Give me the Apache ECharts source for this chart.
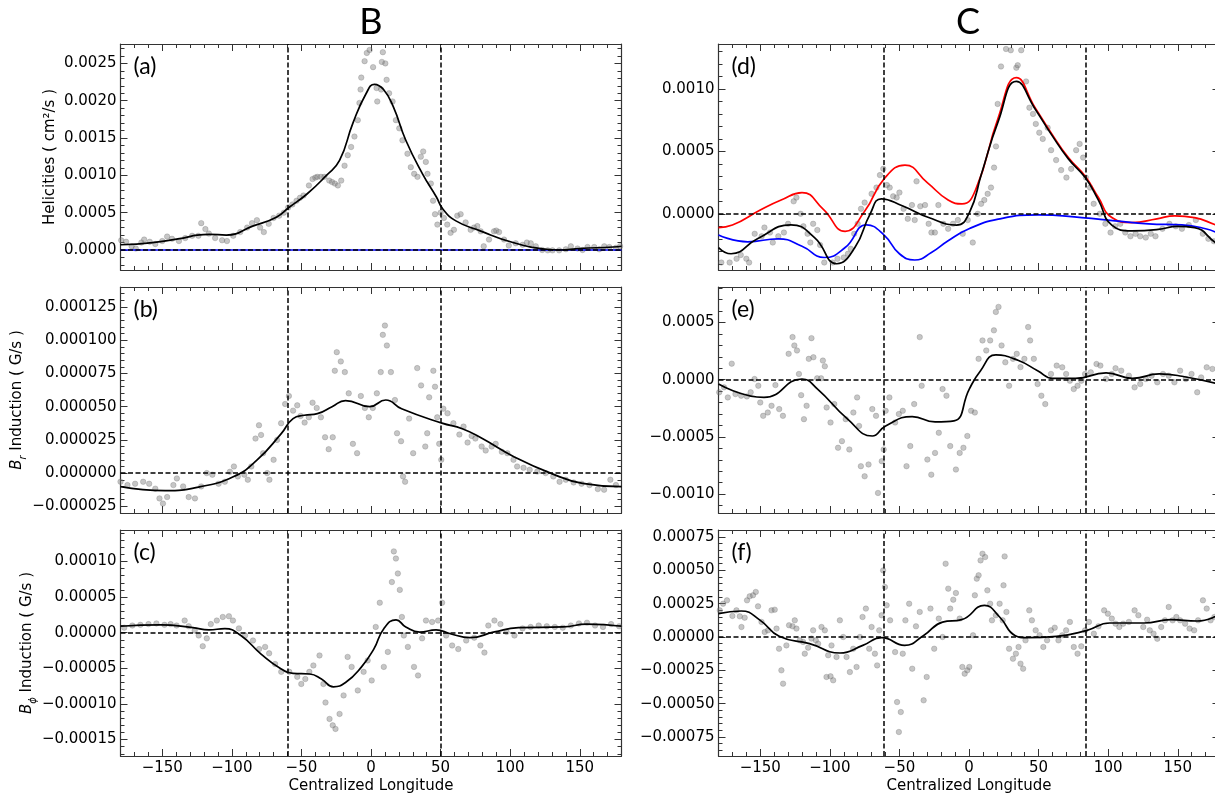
<!DOCTYPE html>
<html>
<head>
<meta charset="utf-8">
<script src="https://cdn.jsdelivr.net/npm/echarts@6/dist/echarts.min.js"></script>
<style>
  html, body { margin: 0; padding: 0; background: #fff; }
  #main { width: 1215px; height: 793px; }
</style>
</head>
<body>
<div id="main"></div>
<script>
// ---- data (x = centralized longitude) ----
// units: a 1e-4, b 1e-6, c 1e-5, d/e/f 1e-4
const ptsA = [[-179.5,1.3],[-176,1.1],[-172,0.5],[-169,0.2],[-165,1.0],[-163,1.4],[-159,1.1],[-155,0.8],[-150,1.2],[-146.5,1.8],[-143,1.5],[-138,1.2],[-133.5,1.6],[-128.5,1.9],[-124,1.9],[-122,3.6],[-119,2.8],[-116.5,2.2],[-112,1.6],[-107,1.3],[-103.5,1.2],[-99,1.9],[-94,2.4],[-89,3.0],[-85.5,3.6],[-82,4.0],[-79.7,3.0],[-77,2.4],[-73.5,3.5],[-70,4.3],[-66,4.6],[-62.6,5.0],[-59.5,5.7],[-56.5,6.1],[-53.5,6.6],[-51,7.0],[-48.5,7.3],[-44.6,8.65],[-42,9.5],[-40,9.7],[-38.5,9.8],[-36,9.8],[-33.5,9.8],[-30,9.3],[-28,9.1],[-26,8.9],[-23.8,8.65],[-21.4,9.3],[-19,11.3],[-16.7,12.7],[-14.3,13.8],[-11.9,15.2],[-9.5,17.4],[-8.3,19.7],[-7.5,21.5],[-7,23.1],[-4.6,25.3],[-3,26.4],[-1,26.8],[1.5,24.5],[4,21.7],[4.5,19.9],[7.3,21.5],[7.8,25.2],[8.5,26.5],[10.3,25.0],[11.2,22.8],[13,21.0],[15.5,19.9],[17.9,17.4],[20.3,16.3],[22.6,14.7],[26.2,12.9],[28.6,11.1],[31,10.2],[33.4,9.8],[35.8,12.5],[37.5,13.2],[39.4,11.8],[40.6,10.2],[43,8.9],[44.6,6.6],[46,4.8],[47.7,3.4],[50,5.0],[52.4,4.3],[54.8,3.4],[57.2,2.3],[59.6,2.7],[62,4.6],[64.4,4.8],[68,3.7],[71.6,2.7],[74,3.0],[76.4,3.2],[78.8,2.5],[81,0.5],[84.8,1.4],[88.4,2.5],[90,2.6],[92,2.4],[95.6,1.4],[99,0.6],[104,0.9],[109,0.7],[112,1.0],[114.8,0.9],[118.4,0.5],[123,0],[127,-0.05],[130.4,-0.05],[135.2,-0.05],[140,0.1],[143.6,0.5],[148.4,0.2],[152,0],[155.6,0.4],[160.4,0.4],[164,0.1],[167.6,0.5],[171.2,0.4],[176,0.3],[179,0.5]];
const fitA = [[-180,0.7],[-157,1.0],[-135,1.6],[-125,2.0],[-116,2.1],[-104,2.0],[-85,3.2],[-68,4.4],[-59,5.7],[-46,7.5],[-32,10.0],[-22.6,12.0],[-13,17.0],[-3.4,21.0],[2.5,22.2],[9,21.5],[16,19.2],[25,14.7],[37,10.2],[47,7.1],[51.6,5.5],[61,3.9],[78,2.6],[102,1.0],[126,0.1],[135,0],[150,0.2],[174,0.4],[180,0.5]];
const zeroA = [[-180,0],[180,0]];

const ptsB = [[-180,-6.5],[-175,-9],[-169.5,-8],[-163.7,-6.5],[-159.4,-8],[-155,-11.7],[-152,-19],[-149.5,-22.9],[-146.5,-18],[-142,-9],[-139.5,-4],[-135,-10],[-131,-18],[-126.5,-19],[-122,-10],[-118,0],[-114,-1.2],[-109.5,-8],[-105,-6.5],[-101.4,1],[-98.5,5],[-95.7,-2.5],[-91,-1.2],[-88.5,-5],[-86,5],[-83,26],[-80.5,36],[-79,28.7],[-77.5,15],[-74.6,0],[-73,-5],[-70,10],[-67.5,25],[-64.6,37.5],[-61.7,52],[-59,58],[-56,47],[-53,51],[-50.6,43],[-47.7,38],[-44.7,42],[-42,53],[-39,49],[-36,42],[-33,27],[-30.4,18],[-27.5,27],[-26,77],[-24.6,91],[-21.7,84],[-18.8,76],[-16,60],[-13,22],[-10,15],[-7.3,58],[-4.4,49],[-1.6,42],[1.3,49],[4.2,60],[7,76],[8.5,104],[10,111],[11.4,96],[14.3,76],[17.2,55],[18.7,30],[21.6,24],[23,-2.5],[24.5,-6.5],[27.4,41],[30.3,15],[33.2,79],[36,66],[39,20],[40.4,30],[41.8,57],[44.8,77],[46,65],[47.6,42],[49,22],[50.5,10],[52,48.5],[55,45],[59.2,37.5],[63.5,29],[66.5,35],[69.4,23],[72.3,28],[75,26],[79.5,20],[82.4,17],[86.7,20],[89.6,22],[94,16],[98,15],[102.4,10],[105,5],[109.6,4],[114,2.5],[119.5,1.2],[125.5,0],[131,-2.5],[135.5,-6.5],[140,-5],[145.6,-7],[151.3,-8],[157,-9],[163,-12],[167.5,-12.5],[172,-5],[176,-9]];
const fitB = [[-180,-10.2],[-148,-13.2],[-122.5,-10.2],[-99,-2.8],[-82,9.7],[-64.5,29.7],[-56,41],[-48,43.5],[-38.5,44.7],[-28,50],[-18.3,54.6],[-1,50],[10.6,55],[22,48.4],[51,37.6],[65.6,33.4],[80,26],[103,12.2],[129,0],[152,-7.7],[180,-10.2]];

const ptsC = [[-177.3,0.7],[-171.5,1.0],[-165.7,1.1],[-159.9,1.2],[-154.2,1.3],[-148.4,1.1],[-144,1.2],[-139.7,1.0],[-133.9,1.7],[-131,0.9],[-126.7,0.3],[-123.8,-0.4],[-120.9,-1.9],[-118,-0.8],[-115.1,1.2],[-110.8,1.7],[-106.5,2.2],[-102.1,2.3],[-99.2,1.7],[-94.9,0.6],[-90.5,-0.4],[-84.8,-1.1],[-80.4,-2.3],[-76.1,-2.0],[-73.2,-2.9],[-68.9,-4.4],[-64.5,-5.5],[-58.7,-5.5],[-53,-6.2],[-50.1,-7.2],[-47.2,-6.5],[-44.3,-5.5],[-41.4,-4.6],[-37,-3.2],[-34.2,-7.2],[-32.7,-9.8],[-29.8,-12.1],[-27.5,-13.0],[-25.5,-13.5],[-22.6,-11.4],[-19.7,-8.8],[-16.8,-3.4],[-13.9,-4.8],[-9.5,-8.1],[-5.3,-5.5],[-2.4,-3.9],[0.5,-6.7],[3.4,0.8],[6.3,4.2],[9.2,-4.8],[12.1,-2.7],[15,7.1],[16.4,11.4],[17.9,10.4],[19.3,8.3],[20.7,6.0],[22.2,2.2],[23.6,-0.4],[26.5,-2.0],[30.9,-4.8],[33.8,-6.0],[36.7,-0.8],[39.5,1.7],[43.9,1.5],[48.2,1.7],[51.1,4.2],[54,-0.4],[58.3,-1.8],[62.7,-2.3],[68.4,-1.1],[74.2,-0.7],[78.6,-1.8],[81.5,-2.8],[84.3,1.0],[88.7,1.7],[93,1.2],[97.4,0.1],[103.1,-0.4],[108.9,0.6],[114.7,0.8],[120.5,1.0],[126.3,0.9],[132.1,0.8],[137.8,0.7],[143.6,1.0],[149.4,1.3],[155.2,1.4],[161,1.0],[166.7,0.8],[172.5,1.2],[178.3,0.9]];
const fitC = [[-180,0.9],[-151,1.1],[-128,0.7],[-116.5,0.4],[-105,0.56],[-93.5,-0.4],[-79,-3.0],[-64.5,-5.1],[-56,-5.7],[-44,-5.8],[-35.6,-6.5],[-27,-7.6],[-18.3,-7.0],[-6.8,-4.8],[2,-2.3],[9.2,0.56],[18,1.8],[25,0.8],[35,0.08],[46.8,0.4],[57,-0.15],[71,-0.7],[88.7,0.1],[106,0.7],[138,0.8],[155,1.2],[180,0.9]];

const ptsD = [[-178,-3.9],[-175,-4.6],[-172,-3.9],[-167,-3.6],[-164,-3.3],[-160,-3.6],[-158,-3.9],[-154,-1.6],[-149,-1.8],[-147,-1.1],[-143,-1.5],[-141,-2.3],[-137,-1.8],[-133,-1.5],[-130,-0.8],[-126,1.0],[-124,1.3],[-121,0],[-119,-1.0],[-116,-1.6],[-114,-2.3],[-112,-0.8],[-109,-1.3],[-107,-2.5],[-104,-3.9],[-100,-4.6],[-98,-3.9],[-94.5,-3.6],[-90,-3.5],[-87,-3.2],[-85,-2.8],[-82.5,-1.6],[-80,-0.8],[-77.6,0.4],[-75,0.9],[-70,1.6],[-66.5,2.1],[-64,3.1],[-61.6,3.6],[-59,2.3],[-57,2.1],[-54.5,1.4],[-52,1.3],[-50,1.7],[-47,0.4],[-44,-0.4],[-41,0.7],[-39,-0.5],[-37.7,2.6],[-35,0.6],[-31.6,0.7],[-29,-0.8],[-27,-1.5],[-24.5,-1.5],[-22,0.7],[-18.4,-0.8],[-15,-1.2],[-11.5,-0.8],[-8,-0.5],[-4.5,-1.6],[-0.9,-0.5],[2.7,-2.3],[6.3,0],[8.7,0.8],[11,1.1],[13.4,1.6],[15.8,2.1],[18,3.7],[19.4,5.4],[20.6,8.8],[23,11.8],[26.6,13.2],[30,13.1],[34,11.7],[35,11.9],[37.5,13.1],[41,10.6],[43.4,8.5],[46,8.0],[48,7.2],[50.5,6.5],[53,6.0],[56.5,6.9],[59,5.1],[62.6,4.3],[66.2,3.5],[70,2.9],[73.4,3.6],[77,5.1],[79.5,5.6],[82,4.5],[84,2.9],[87,2.1],[89.6,0.8],[94,0],[98,-0.8],[101.7,-1.5],[105,-1.0],[108.7,-0.8],[112.3,-1.5],[116,-1.8],[119.7,-1.6],[123,-1.8],[127,-1.9],[130.6,-1.6],[134,-1.8],[139,-1.2],[144,-0.8],[148.6,-1.0],[153,-1.2],[158,-0.9],[163,-0.5],[168,-1.6],[172,-2.0],[176,-2.2]];
const fitD = [[-180,-2.7],[-171,-3.2],[-152,-2.0],[-128,-0.88],[-111,-1.9],[-95,-4.0],[-82,-2.7],[-71,0],[-63,1.2],[-48,0.64],[-29,-0.3],[-9,-0.9],[0.3,0.1],[9,3.2],[21,7.4],[34,10.6],[47.5,8.4],[59.5,6.3],[71.4,4.4],[83.5,2.9],[93,1.1],[102.6,-0.9],[117,-1.36],[136,-1.25],[150,-1.0],[162,-1.1],[177,-2.3],[180,-2.5]];
const redD = [[-180,-1.1],[-170,-0.9],[-150,0.3],[-135,1.1],[-120,1.7],[-105,0.4],[-89,-1.4],[-75,0.2],[-61,2.8],[-46,3.9],[-30,2.5],[-15,1.1],[-5,0.8],[5,2.0],[21,7.7],[34,10.9],[47.5,8.5],[59.5,6.4],[71.4,4.5],[83.5,3.0],[93,1.3],[102.6,-0.3],[117,-0.7],[135,-0.4],[148,-0.16],[162,-0.3],[177,-0.88],[180,-1.0]];
const blueD = [[-180,-1.7],[-159,-2.24],[-137,-2.0],[-120,-2.6],[-104,-3.5],[-89,-2.7],[-73.6,-0.88],[-61,-1.7],[-50,-3.2],[-39,-3.7],[-27,-3.1],[-15,-2.16],[0,-1.2],[21,-0.43],[50,-0.08],[81,-0.3],[105,-0.56],[129,-0.8],[153,-0.88],[170,-1.2],[180,-1.6]];

const ptsE = [[-179.5,-1.1],[-176,-0.67],[-173.3,-1.55],[-170.5,1.4],[-167.8,-1.26],[-163.7,-1.4],[-159.6,-1.46],[-156.9,-1.1],[-154.1,0.06],[-151.4,-0.53],[-150,-1.99],[-147.9,-3.16],[-144.6,-2.87],[-141.9,-2.28],[-139.1,-0.47],[-136.4,-2.57],[-133.7,-3.16],[-129.6,2.26],[-126.8,3.72],[-125.5,2.99],[-123.6,2.55],[-122.2,0.5],[-120.6,-1.35],[-118.6,-3.45],[-116.7,-2.28],[-115.1,1.82],[-113.2,3.63],[-111.8,1.96],[-109.1,0.12],[-106.3,0.12],[-105,1.67],[-103.6,1.17],[-102.3,-2.43],[-99.5,-3.74],[-96.8,-2.13],[-94.1,-5.95],[-91.3,-5.37],[-88.6,-3.45],[-86,-6.1],[-83.1,-2.87],[-80.4,-1.55],[-79,-4.04],[-77.7,-7.56],[-75,-8.44],[-72.2,-7.41],[-69.5,-2.57],[-66.8,-3.16],[-65.4,-9.9],[-62.7,-7.12],[-61.3,-6.1],[-59.9,-2.72],[-57.2,-1.55],[-53.1,-3.74],[-50.4,-3.0],[-47.6,-2.72],[-44.9,-7.56],[-42.2,-5.8],[-39.4,-2.13],[-35.4,3.72],[-34,-0.53],[-29.9,-6.98],[-27.1,-8.3],[-24.4,-6.4],[-21.7,-4.64],[-19,-0.82],[-16.2,-1.4],[-13.5,-5.8],[-9.4,-7.85],[-6.7,-6.4],[-4,-5.95],[-1.2,-4.92],[1.5,-2.72],[4.2,-2.87],[6.9,1.82],[9.7,3.43],[12.4,2.55],[15.2,3.43],[17.9,4.31],[19.3,5.92],[21.2,6.36],[23.4,2.99],[26.1,1.52],[28.8,-0.53],[31.6,1.82],[34.3,2.26],[37,1.1],[39.8,1.82],[42.5,4.6],[43.9,3.43],[46.6,1.82],[49.3,-0.38],[52,-1.4],[54.8,-2.13],[58.9,0.5],[63,1.23],[67,1.08],[69.8,0.5],[72.5,-0.09],[75.3,-0.82],[78,-0.53],[80.7,-0.09],[83.4,0.5],[87.5,0.64],[91.6,1.37],[94.4,1.23],[98.5,0.06],[102.6,0.5],[105.3,1.0],[109.4,0.79],[114.9,0.35],[119,-0.67],[123,-0.38],[127.1,0.06],[131.2,0.35],[135.3,-0.23],[139.4,0.5],[143.5,0.35],[147.6,-0.23],[151.7,0.79],[155.8,0.06],[159.9,0.5],[164,-1.1],[166.8,0.2],[170.8,1.08],[174.9,0.94]];
const fitE = [[-180,-0.38],[-147.3,-1.55],[-120,0.06],[-109,-0.8],[-87.2,-3.45],[-69.5,-4.92],[-59.9,-4.04],[-40.8,-3.22],[-24.4,-3.69],[-10.8,-3.6],[0.2,-0.82],[8.3,0.79],[19.3,2.17],[35.6,1.67],[49.3,0.79],[60.2,0.12],[76.6,0.12],[98.5,0.59],[117.6,0.12],[136.7,0.5],[153,0.3],[180,-0.4]];

const ptsF = [[-179.1,2.0],[-176.7,2.5],[-173.9,2.75],[-170,1.58],[-167.1,2.0],[-164.7,1.55],[-163.5,0.75],[-161.2,1.45],[-159.5,2.75],[-157.6,3.05],[-155.2,3.13],[-153.2,3.38],[-151.6,2.3],[-149.1,1.13],[-146.8,0.37],[-144.4,0.5],[-141.9,2.0],[-139.6,2.05],[-138.3,0.63],[-136.5,-0.88],[-134.8,-2.5],[-133.6,-3.5],[-131.2,-0.63],[-129.3,0.88],[-126.8,0.8],[-125.2,1.25],[-124,0.63],[-121.6,-0.25],[-119.2,-0.37],[-118,-1.25],[-115.6,-0.8],[-113.2,-0.12],[-112,0.5],[-110.1,-0.25],[-108.4,-0.5],[-106,0.75],[-103.6,0.5],[-102.4,-3.0],[-101.2,-1.37],[-99.5,-2.95],[-98.8,-0.63],[-97.6,-3.25],[-95.2,-1.5],[-92.8,1.25],[-90.4,0],[-88,-1.5],[-85.6,-2.63],[-83.2,-0.88],[-80.8,-2.25],[-78.4,0],[-76.5,1.5],[-74.1,2.13],[-71.7,-0.88],[-70,0.75],[-67.6,-1.25],[-66,-2.13],[-64.5,0.5],[-62.8,1.63],[-61.7,5.0],[-60.4,3.75],[-59.2,2.38],[-56.7,1.25],[-53.1,-1.13],[-51.7,-4.88],[-50.4,-7.13],[-49,-5.63],[-47.6,-1.25],[-45.7,1.25],[-43,2.5],[-40.8,-2.38],[-38.1,0.8],[-35.4,1.88],[-32.6,-4.75],[-30.4,-3.0],[-27.7,2.13],[-25,-0.88],[-21.7,1.38],[-19,0],[-16.8,5.5],[-14.9,3.63],[-13.5,2.13],[-11.3,2.8],[-9.4,3.3],[-6.7,1.38],[-4.8,-2.25],[-3.1,-2.75],[-1.2,-2.5],[0.2,-2.25],[2.9,0.13],[4.2,3.13],[5.6,4.38],[6.9,4.63],[8.3,5.75],[9.7,6.25],[11.6,6.0],[13.2,3.5],[15.2,2.5],[16.5,1.25],[19.3,1.63],[22,2.5],[24.2,1.25],[24.8,3.88],[25.6,6.05],[26.9,1.88],[28.8,-0.88],[31.6,-1.63],[33.7,-1.25],[35.6,-0.75],[37,-2.0],[38.9,-2.38],[40.6,-0.25],[43.3,2.0],[45.2,1.25],[47.9,0.5],[50.7,0.13],[53.4,-0.75],[56.1,-0.25],[58.9,0.5],[61.6,0.7],[64.3,-0.25],[67,0.13],[69.8,0.5],[72.5,1.13],[75.3,-0.75],[78,-1.25],[80.7,-0.7],[83.4,0.5],[86.2,1.13],[89.7,0.25],[93,0.8],[97.1,2.0],[99.8,1.75],[102.6,1.38],[105.3,1.0],[108,0.75],[110.8,1.0],[114.9,1.13],[119,2.0],[121.7,1.63],[125.2,0.75],[128,1.3],[129.9,0.5],[132.6,0.25],[135.3,-0.13],[138.1,0.75],[140.8,1.25],[143.5,2.25],[146.3,1.25],[149,1.5],[151.7,1.25],[155.3,1.0],[158.5,0.63],[161.8,0.5],[164.6,1.25],[168.1,2.75],[170.8,2.13],[173.6,1.25],[176.3,1.5]];
const fitF = [[-180,1.75],[-163.7,1.95],[-150,1.25],[-136.4,0.05],[-114.6,-0.5],[-92.7,-1.2],[-76.3,-0.63],[-62.7,-0.05],[-46.3,-0.63],[-32.6,0.12],[-19,1.12],[-5.3,1.3],[11.1,2.37],[22,1.5],[33,0.12],[41.1,-0.05],[63,0.05],[84.8,0.5],[101.2,1.05],[125.8,1.05],[144.9,1.3],[164,1.2],[180,1.7]];

// reference lines
const vLinesB = [-60, 50];
const vLinesC = [-61, 84];

// tick labels
const xTicks = [-150, -100, -50, 0, 50, 100, 150];
const ticksA = [0, 0.0005, 0.001, 0.0015, 0.002, 0.0025];
const ticksB = [-0.000025, 0, 0.000025, 0.00005, 0.000075, 0.0001, 0.000125];
const ticksC = [-0.00015, -0.0001, -0.00005, 0, 0.00005, 0.0001];
const ticksD = [0, 0.0005, 0.001];
const ticksE = [-0.001, -0.0005, 0, 0.0005];
const ticksF = [-0.00075, -0.0005, -0.00025, 0, 0.00025, 0.0005, 0.00075];

const FONT = 'DejaVu Sans';
const AX = '#333';

function minorTicks(lo, hi, step, major) {
  const out = [];
  const n0 = Math.ceil(lo / step - 1e-9), n1 = Math.floor(hi / step + 1e-9);
  for (let i = n0; i <= n1; i++) {
    const v = +(i * step).toPrecision(10);
    const r = v / major;
    if (Math.abs(r - Math.round(r)) > 1e-6) out.push(v);
  }
  return out;
}
const xMinor = minorTicks(-180, 180, 10, 50);

const minus = s => s.replace('-', '\u2212');

const panels = [
  { grid: [120.5, 44], ymin: -0.000268, ymax: 0.00276, ticks: ticksA, minor: 0.0001, major: 0.0005, dec: 4,
    name: 'Helicities ( cm\u00b2/s )', gap: 63, xl: false, letter: '(a)',
    pts: ptsA, unit: 1e-4, fits: [[zeroA, '#0000ff'], [fitA, '#000']], vl: vLinesB },
  { grid: [120.5, 287], ymin: -0.00003, ymax: 0.00014, ticks: ticksB, minor: 0.000005, major: 0.000025, dec: 6,
    name: '{i|B}{s|r}{n| Induction ( G/s )}', gap: 86, xl: false, letter: '(b)',
    pts: ptsB, unit: 1e-6, fits: [[fitB, '#000']], vl: vLinesB },
  { grid: [120.5, 530], ymin: -0.000173, ymax: 0.000144, ticks: ticksC, minor: 0.00001, major: 0.00005, dec: 5,
    name: '{i|B}{s|\u03d5}{n| Induction ( G/s )}', gap: 80, xl: true, letter: '(c)',
    pts: ptsC, unit: 1e-5, fits: [[fitC, '#000']], vl: vLinesB },
  { grid: [718.5, 44], ymin: -0.00045, ymax: 0.00136, ticks: ticksD, minor: 0.0001, major: 0.0005, dec: 4,
    name: '', gap: 0, xl: false, letter: '(d)',
    pts: ptsD, unit: 1e-4, fits: [[redD, '#ff0000'], [blueD, '#0000ff'], [fitD, '#000']], vl: vLinesC },
  { grid: [718.5, 287], ymin: -0.001165, ymax: 0.00081, ticks: ticksE, minor: 0.0001, major: 0.0005, dec: 4,
    name: '', gap: 0, xl: false, letter: '(e)',
    pts: ptsE, unit: 1e-4, fits: [[fitE, '#000']], vl: vLinesC },
  { grid: [718.5, 530], ymin: -0.000893, ymax: 0.000803, ticks: ticksF, minor: 0.00005, major: 0.00025, dec: 5,
    name: '', gap: 0, xl: true, letter: '(f)',
    pts: ptsF, unit: 1e-4, fits: [[fitF, '#000']], vl: vLinesC }
];

const grids = [], xAxes = [], yAxes = [], series = [], graphics = [];

panels.forEach((p, gi) => {
  grids.push({ left: p.grid[0], top: p.grid[1], width: 501, height: 226, outerBoundsMode: 'none', containLabel: false });

  const xBase = { type: 'value', gridIndex: gi, min: -180, max: 180, splitLine: { show: false },
                  axisLabel: { show: false }, axisLine: { show: false, onZero: false } };
  const major = { inside: true, length: 7, lineStyle: { color: AX, width: 1 } };
  const minorT = { inside: true, length: 4, lineStyle: { color: AX, width: 1 } };
  const frame = { show: true, onZero: false, lineStyle: { color: AX, width: 1.2 } };

  xAxes.push(Object.assign({}, xBase, {
    position: 'bottom', axisLine: frame,
    axisTick: Object.assign({ customValues: xTicks }, major),
    axisLabel: p.xl ? { show: true, customValues: xTicks, margin: 5, color: '#000', fontFamily: FONT, fontSize: 15,
                        formatter: v => minus(String(v)) } : { show: false },
    name: p.xl ? 'Centralized Longitude' : '', nameLocation: 'middle', nameGap: 23,
    nameTextStyle: { fontFamily: FONT, fontSize: 15, color: '#000' }
  }));
  xAxes.push(Object.assign({}, xBase, { position: 'bottom', axisTick: Object.assign({ customValues: xMinor }, minorT) }));
  xAxes.push(Object.assign({}, xBase, { position: 'top', axisLine: frame, axisTick: Object.assign({ customValues: xTicks }, major) }));
  xAxes.push(Object.assign({}, xBase, { position: 'top', axisTick: Object.assign({ customValues: xMinor }, minorT) }));

  const yMinor = minorTicks(p.ymin, p.ymax, p.minor, p.major);
  const yBase = { type: 'value', gridIndex: gi, min: p.ymin, max: p.ymax, splitLine: { show: false },
                  axisLabel: { show: false }, axisLine: { show: false, onZero: false } };
  yAxes.push(Object.assign({}, yBase, {
    position: 'left', axisLine: frame,
    axisTick: Object.assign({ customValues: p.ticks }, major),
    axisLabel: { show: true, customValues: p.ticks, margin: 4, color: '#000', fontFamily: FONT, fontSize: 15,
                 formatter: v => (v < -1e-12 ? '\u2212' : '') + Math.abs(v).toFixed(p.dec) },
    name: p.name, nameLocation: 'middle', nameGap: p.gap,
    nameTextStyle: {
      fontFamily: FONT, fontSize: 15, color: '#000',
      rich: {
        i: { fontFamily: FONT, fontSize: 15, fontStyle: 'italic', lineHeight: 22, color: '#000' },
        s: { fontFamily: FONT, fontSize: 10, fontStyle: 'italic', verticalAlign: 'bottom', color: '#000' },
        n: { fontFamily: FONT, fontSize: 15, lineHeight: 22, color: '#000' }
      }
    }
  }));
  yAxes.push(Object.assign({}, yBase, { position: 'left', axisTick: Object.assign({ customValues: yMinor }, minorT) }));
  yAxes.push(Object.assign({}, yBase, { position: 'right', axisLine: frame, axisTick: Object.assign({ customValues: p.ticks }, major) }));
  yAxes.push(Object.assign({}, yBase, { position: 'right', axisTick: Object.assign({ customValues: yMinor }, minorT) }));

  const ax = { xAxisIndex: gi * 4, yAxisIndex: gi * 4 };
  series.push(Object.assign({
    type: 'scatter', data: p.pts.map(d => [d[0], d[1] * p.unit]), symbolSize: 5.5, silent: true, z: 2,
    itemStyle: { color: 'rgba(125,125,125,0.55)', borderColor: 'rgba(90,90,90,0.5)', borderWidth: 0.6 }
  }, ax));
  p.fits.forEach((f, k) => {
    const s = Object.assign({
      type: 'line', data: f[0].map(d => [d[0], d[1] * p.unit]), smooth: 0.5, showSymbol: false, silent: true,
      z: 3 + k, lineStyle: { color: f[1], width: 1.7 }
    }, ax);
    if (k === 0) {
      const ml = p.vl.map(v => ({ xAxis: v }));
      ml.push({ yAxis: 0 });
      s.markLine = { symbol: ['none', 'none'], silent: true, label: { show: false }, animation: false,
                     lineStyle: { color: '#000', type: [5, 2.5], width: 1.5 }, data: ml, z: 10 };
    }
    series.push(s);
  });

  graphics.push({ type: 'text', x: p.grid[0] + 13, y: p.grid[1] + 23, z: 100,
    style: { text: p.letter, font: '23px Lato', fill: '#000', align: 'left', verticalAlign: 'middle',
             textAlign: 'left', textVerticalAlign: 'middle' } });
});

graphics.push({ type: 'text', x: 371, y: 22, style: { text: 'B', font: '36px Lato', fill: '#000',
  align: 'center', verticalAlign: 'middle', textAlign: 'center', textVerticalAlign: 'middle' } });
graphics.push({ type: 'text', x: 968, y: 22, style: { text: 'C', font: '36px Lato', fill: '#000',
  align: 'center', verticalAlign: 'middle', textAlign: 'center', textVerticalAlign: 'middle' } });

const chart = echarts.init(document.getElementById('main'), null, { renderer: 'canvas' });
chart.setOption({
  animation: false,
  backgroundColor: '#fff',
  grid: grids,
  xAxis: xAxes,
  yAxis: yAxes,
  series: series,
  graphic: graphics
});
</script>
</body>
</html>
